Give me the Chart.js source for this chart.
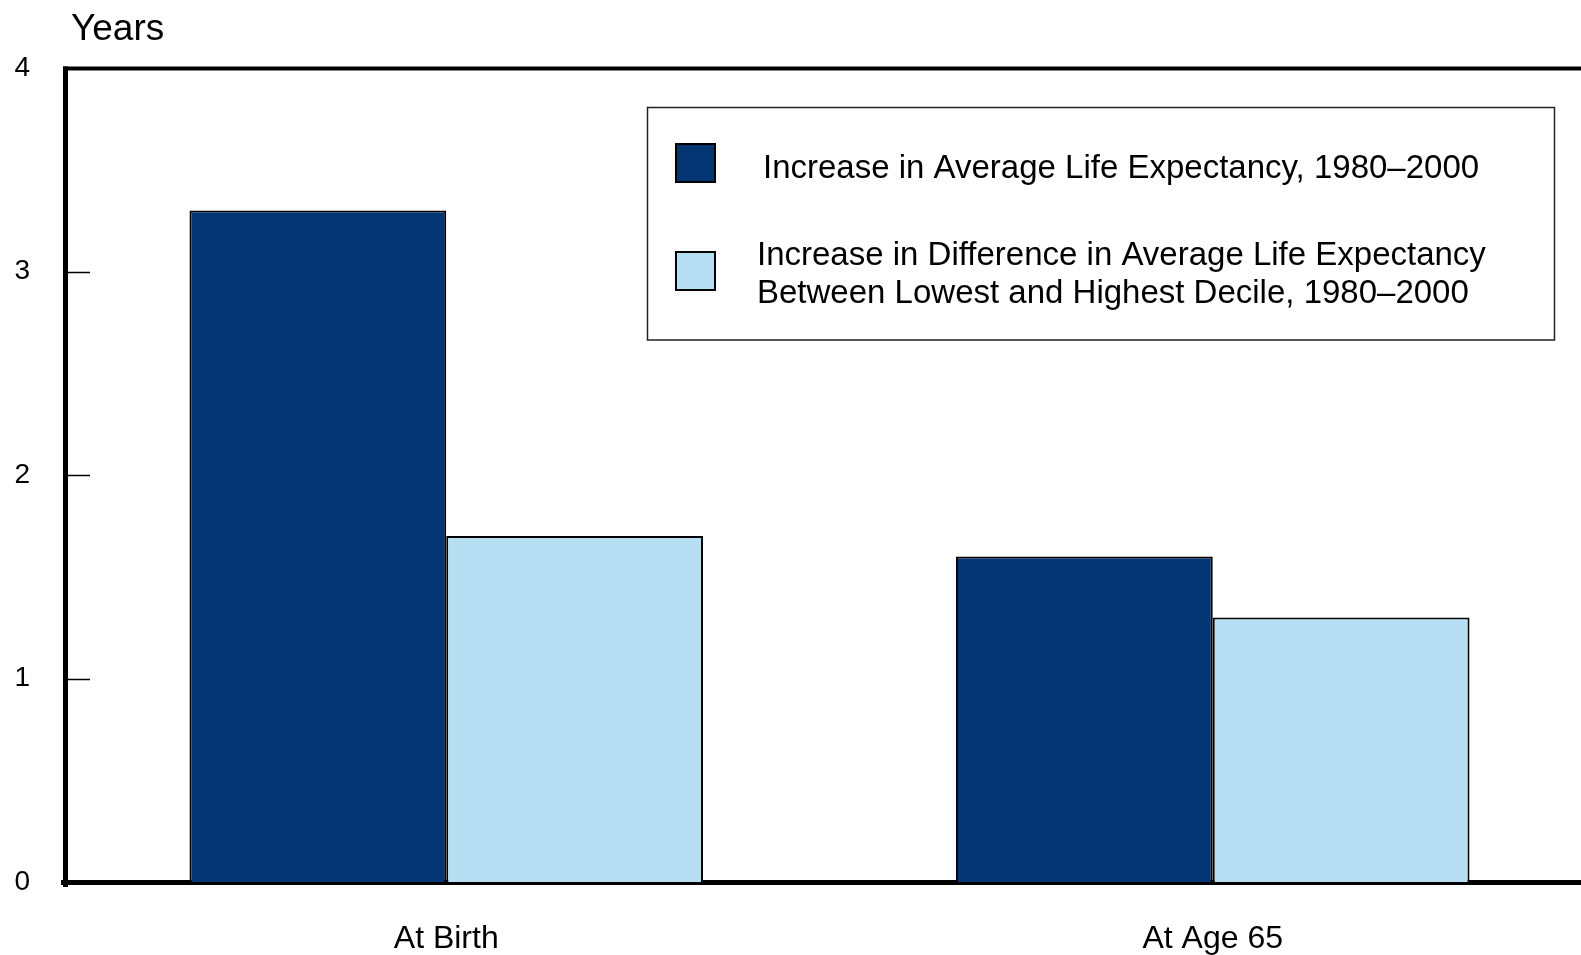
<!DOCTYPE html>
<html>
<head>
<meta charset="utf-8">
<script src="https://cdn.jsdelivr.net/npm/chart.js@4.4.1/dist/chart.umd.min.js"></script>
<style>
    html, body { margin: 0; padding: 0; background: #fff; overflow: hidden; }
    #box { width: 1581px; height: 955px; }
</style>
</head>
<body>
<div id="box"><canvas id="grafico"></canvas></div>
<script>
// datos
const categorias = ['At Birth', 'At Age 65'];
const promedio = [3.3, 1.6];     // aumento esperanza de vida promedio
const diferencia = [1.7, 1.3];   // aumento diferencia decil bajo/alto
const ticksY = [0, 1, 2, 3, 4];
const etiquetas = [
    ['Increase in Average Life Expectancy, 1980\u20132000'],
    ['Increase in Difference in Average Life Expectancy', 'Between Lowest and Highest Decile, 1980\u20132000']
];

const fuente = '"Liberation Sans", Arial, sans-serif';

// ejes, ticks hacia adentro, titulo "Years" y leyenda con recuadro
const extras = {
    id: 'extras',
    afterLayout(chart) {
        // el area del grafico original sigue un poco mas alla del borde derecho
        let x = chart.scales.x;
        x.right += 15;
        x.width += 15;
        x.configure();
    },
    afterDraw(chart) {
        let ctx = chart.ctx;
        let area = chart.chartArea;
        let y = chart.scales.y;
        ctx.save();
        ctx.strokeStyle = '#000';
        // linea superior
        ctx.lineWidth = 4;
        ctx.beginPath();
        ctx.moveTo(area.left, area.top + 0.5);
        ctx.lineTo(chart.width, area.top + 0.5);
        ctx.stroke();
        // eje izquierdo
        ctx.lineWidth = 5;
        ctx.beginPath();
        ctx.moveTo(area.left + 2.5, area.top - 1.5);
        ctx.lineTo(area.left + 2.5, area.bottom + 5);
        ctx.stroke();
        // ticks
        ctx.lineWidth = 1.5;
        ticksY.forEach(v => {
            if (v == 0 || v == 4) return;
            let py = Math.round(y.getPixelForValue(v)) + 0.5;
            ctx.beginPath();
            ctx.moveTo(area.left + 4, py);
            ctx.lineTo(area.left + 27, py);
            ctx.stroke();
        });
        // titulo eje
        ctx.fillStyle = '#000';
        ctx.font = '37px ' + fuente;
        ctx.textBaseline = 'alphabetic';
        ctx.textAlign = 'left';
        ctx.fillText('Years', 71, 40);
        // leyenda
        ctx.strokeStyle = '#222';
        ctx.lineWidth = 1.5;
        ctx.strokeRect(647.5, 107.5, 907, 232.5);
        let filas = [
            { sq: 143, tx: 763, ty: [178] },
            { sq: 251, tx: 757, ty: [265, 303] }
        ];
        ctx.font = '33px ' + fuente;
        chart.data.datasets.forEach((ds, i) => {
            let f = filas[i];
            ctx.fillStyle = ds.backgroundColor;
            ctx.fillRect(675, f.sq, 41, 40);
            ctx.strokeStyle = '#000';
            ctx.lineWidth = 2;
            ctx.strokeRect(676, f.sq + 1, 39, 38);
            ctx.fillStyle = '#000';
            etiquetas[i].forEach((t, j) => ctx.fillText(t, f.tx, f.ty[j]));
        });
        ctx.restore();
    }
};

let datos = {
    labels: categorias,
    datasets: [{
            label: etiquetas[0].join(' '),
            data: promedio,
            backgroundColor: '#033572',
            borderColor: '#000',
            borderWidth: 2
        },
        {
            label: etiquetas[1].join(' '),
            data: diferencia,
            backgroundColor: '#b6dff3',
            borderColor: '#000',
            borderWidth: 2
        }
    ]
};

let opciones = {
    responsive: true,
    maintainAspectRatio: false,
    animation: false,
    layout: { padding: { top: 68, left: 0, right: 0, bottom: 0 } },
    plugins: {
        legend: { display: false },
        tooltip: { enabled: false }
    },
    datasets: {
        bar: { categoryPercentage: 0.67, barPercentage: 1.0 }
    },
    scales: {
        x: {
            grid: { display: false, drawTicks: false },
            border: { display: true, color: '#000', width: 5 },
            ticks: { color: '#000', font: { family: fuente, size: 32 }, padding: 38 },
            afterFit: s => { s.height = 955 - 882; }
        },
        y: {
            min: 0,
            max: 4,
            afterBuildTicks: s => { s.ticks = ticksY.map(v => ({ value: v })); },
            grid: { display: false, drawTicks: false },
            border: { display: false },
            ticks: { color: '#000', font: { family: fuente, size: 28 }, padding: 33 },
            afterFit: s => { s.width = 63; }
        }
    }
};

new Chart(document.getElementById('grafico').getContext('2d'), {
    type: 'bar',
    data: datos,
    options: opciones,
    plugins: [extras]
});
</script>
</body>
</html>
